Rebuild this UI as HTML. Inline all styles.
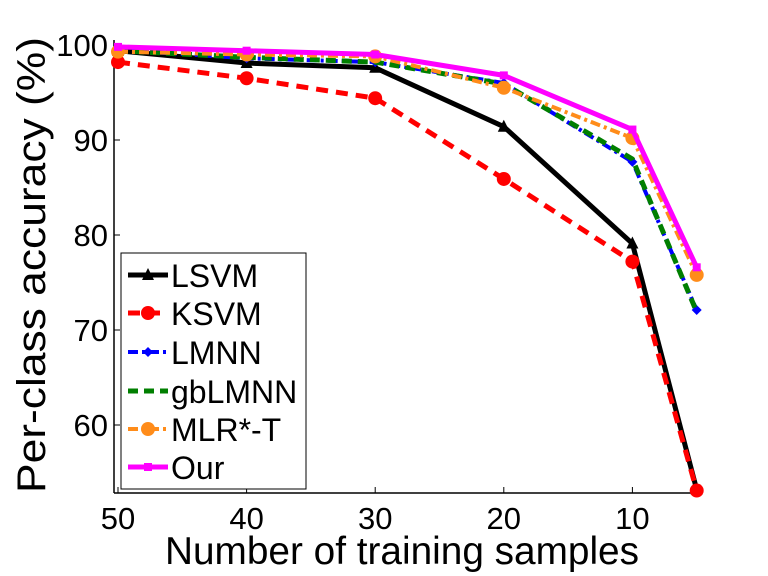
<!DOCTYPE html>
<html><head><meta charset="utf-8"><style>
html,body{margin:0;padding:0;background:#fff;}
svg{display:block;font-family:"Liberation Sans",Arial,sans-serif;}
</style></head><body>
<svg id="chart" width="768" height="576" viewBox="0 0 768 576">
<g id="axes"></g>
<g id="series"></g>
<g id="legend"></g>
<text x="402" y="564" font-size="39" text-anchor="middle" textLength="474" lengthAdjust="spacingAndGlyphs">Number of training samples</text>
<text transform="translate(45,265) rotate(-90)" font-size="40" text-anchor="middle" textLength="456" lengthAdjust="spacingAndGlyphs">Per-class accuracy (%)</text>
</svg>
<script>
const xCategories = [50, 40, 30, 20, 10, 5];
const xTickLabels = [50, 40, 30, 20, 10];
const yTickLabels = [60, 70, 80, 90, 100];
const seriesNames = ["LSVM", "KSVM", "LMNN", "gbLMNN", "MLR*-T", "Our"];
const lsvm = [99.4, 98.1, 97.6, 91.4, 79.1, 53.2];
const ksvm = [98.2, 96.5, 94.4, 85.9, 77.2, 53.1];
const lmnn = [99.5, 98.6, 98.2, 96.0, 87.7, 72.1];
const gblmnn = [99.4, 98.7, 98.2, 95.9, 88.0, 71.9];
const mlrt = [99.3, 99.0, 98.8, 95.5, 90.2, 75.8];
const our = [99.8, 99.4, 99.0, 96.8, 91.1, 76.6];

const NS = "http://www.w3.org/2000/svg";
function X(v){ return 118 + (50 - v) * 12.86; }
function Y(v){ return 45 + (100 - v) * 9.5; }
function mk(tag, attrs, parent){ const e=document.createElementNS(NS,tag); for(const k in attrs) e.setAttribute(k, attrs[k]); parent.appendChild(e); return e; }

const axes = document.getElementById('axes');
const yl = mk('line',{x1:114,y1:40,x2:114,y2:493,stroke:'#000','stroke-width':1.5},axes);


const xl = mk('line',{x1:114,y1:493,x2:700,y2:493,stroke:'#000','stroke-width':1.5},axes);


yTickLabels.forEach(v=>{
  const t = mk('line',{x1:114,y1:Y(v),x2:120,y2:Y(v),stroke:'#000','stroke-width':1},axes);
  
  
  const l = mk('text',{x:108,y:Y(v)+11,'font-size':31,'text-anchor':'end'},axes);
  l.textContent = v;
  
  
});
xTickLabels.forEach(v=>{
  const t = mk('line',{x1:X(v),y1:493,x2:X(v),y2:487,stroke:'#000','stroke-width':1},axes);
  
  
  const l = mk('text',{x:X(v),y:529,'font-size':31,'text-anchor':'middle'},axes);
  l.textContent = v;
  
  
});

const styles = [
  {data:lsvm, color:'#000', w:5, dash:'', marker:'tri'},
  {data:ksvm, color:'#ff0000', w:5, dash:'12,8', marker:'circle'},
  {data:lmnn, color:'#0000ff', w:4, dash:'10,4,3,4', marker:'diamond'},
  {data:gblmnn, color:'#007f00', w:5, dash:'10,6', marker:'none'},
  {data:mlrt, color:'#ff8c1a', w:4, dash:'10,4,3,4', marker:'circleO'},
  {data:our, color:'#ff00ff', w:5, dash:'', marker:'square'}
];
function drawMarker(type, x, y, color, parent){
  let m=null;
  if(type==='tri') m = mk('path',{d:`M${x},${y-7} L${x+6},${y+5} L${x-6},${y+5}Z`,fill:color},parent);
  else if(type==='circle') m = mk('circle',{cx:x,cy:y,r:7,fill:color},parent);
  else if(type==='circleO') m = mk('circle',{cx:x,cy:y,r:7,fill:color},parent);
  else if(type==='diamond') m = mk('path',{d:`M${x},${y-5} L${x+5},${y} L${x},${y+5} L${x-5},${y}Z`,fill:color},parent);
  else if(type==='square') m = mk('rect',{x:x-4,y:y-4,width:8,height:8,fill:color},parent);
  return m;
}
const sg = document.getElementById('series');
styles.forEach((s,i)=>{
  const g = mk('g',{},sg);
  
  
  const pts = s.data.map((v,j)=>X(xCategories[j])+','+Y(v)).join(' ');
  const pl = mk('polyline',{points:pts,fill:'none',stroke:s.color,'stroke-width':s.w,'stroke-dasharray':s.dash,'stroke-linejoin':'round'},g);
  
  
  s.data.forEach((v,j)=>{
    const m = drawMarker(s.marker, X(xCategories[j]), Y(v), s.color, g);
    if(m){
      
      
    }
  });
});

const lg = document.getElementById('legend');
const box = mk('rect',{x:121,y:253,width:185,height:236,fill:'#fff',stroke:'#000','stroke-width':1},lg);


const ly = [275, 313, 352, 391, 429, 467];
styles.forEach((s,i)=>{
  const g = mk('g',{},lg);
  
  
  mk('line',{x1:128,y1:ly[i],x2:168,y2:ly[i],stroke:s.color,'stroke-width':s.w,'stroke-dasharray':s.dash},g);
  drawMarker(s.marker,148,ly[i],s.color,g);
  const t = mk('text',{x:171,y:ly[i]+12,'font-size':32},g);
  t.textContent = seriesNames[i];
});
</script>
</body></html>
